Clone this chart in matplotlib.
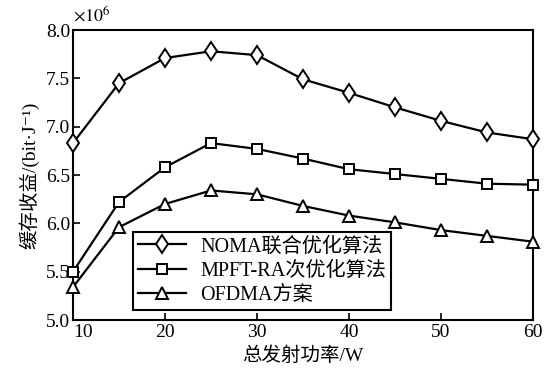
import matplotlib
matplotlib.use("Agg")
import matplotlib.pyplot as plt
import matplotlib.transforms as mtransforms

plt.rcParams['font.family'] = ['Liberation Serif', 'DejaVu Serif', 'Noto Sans CJK SC']
plt.rcParams['mathtext.fontset'] = 'stix'

power = [10, 15, 20, 25, 30, 35, 40, 45, 50, 55, 60]
noma = [6.83, 7.45, 7.71, 7.78, 7.74, 7.49, 7.35, 7.20, 7.06, 6.94, 6.87]
mpft = [5.50, 6.22, 6.58, 6.83, 6.77, 6.67, 6.56, 6.51, 6.46, 6.41, 6.40]
ofdma = [5.34, 5.96, 6.20, 6.34, 6.30, 6.18, 6.08, 6.01, 5.93, 5.87, 5.81]
labels = ['NOMA联合优化算法', 'MPFT-RA次优化算法', 'OFDMA方案']
xticks = [10, 20, 30, 40, 50, 60]
yticks = [5.0, 5.5, 6.0, 6.5, 7.0, 7.5, 8.0]

fig = plt.figure(figsize=(5.44, 3.74), dpi=100)
ax = fig.add_axes([73/544, 1 - 320/374, 460/544, 290/374])

style = dict(color='black', lw=1.6, markerfacecolor='white', markeredgecolor='black',
             markeredgewidth=1.4, clip_on=False, zorder=3)
ax.plot(power, noma, marker='d', markersize=9.5, label=labels[0], **style)
ax.plot(power, mpft, marker='s', markersize=7, label=labels[1], **style)
ax.plot(power, ofdma, marker='^', markersize=8, label=labels[2], **style)

ax.set_xlim(10, 60)
ax.set_ylim(5.0, 8.0)
ax.set_xticks(xticks)
ax.set_yticks(yticks)
ax.set_yticklabels([f'{v:.1f}' for v in yticks])
ax.tick_params(direction='in', length=5, width=1.2, labelsize=14)
ax.tick_params(axis='x', pad=3)
ax.tick_params(axis='y', pad=2)
for s in ax.spines.values():
    s.set_linewidth(1.5)

# nudge the first x tick label right so it clears the lowest y tick label
first = ax.get_xticklabels()[0]
first.set_transform(first.get_transform() +
                    mtransforms.ScaledTranslation(10/100, 0, fig.dpi_scale_trans))

ax.set_xlabel('总发射功率/W', fontsize=14, labelpad=4)
ax.set_ylabel('缓存收益/(bit·J⁻¹)', fontsize=14, labelpad=5)
ax.text(0.0, 1.015, r'$\times10^{6}$', transform=ax.transAxes, fontsize=13,
        ha='left', va='bottom')

leg = ax.legend(loc='lower left', bbox_to_anchor=(0.13, 0.035), fontsize=14.5,
                frameon=True, fancybox=False, edgecolor='black', framealpha=1,
                handlelength=2.4, handletextpad=0.7, borderpad=0.25, labelspacing=0.25,
                borderaxespad=0)
leg.get_frame().set_linewidth(1.5)

fig.savefig('out.png', dpi=100)
